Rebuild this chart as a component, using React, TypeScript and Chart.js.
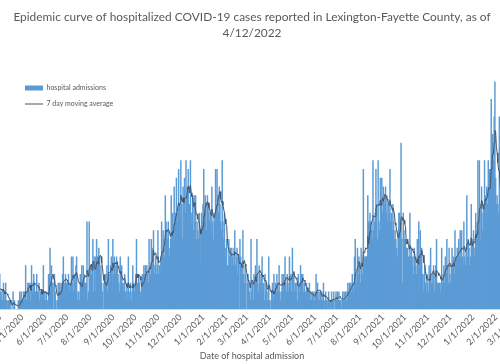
import React, { useEffect, useRef } from 'react';
import { Chart, registerables } from 'chart.js';

Chart.register(...registerables);

// ---- texts ----
const chartTitle = [
  'Epidemic curve of hospitalized COVID-19 cases reported in Lexington-Fayette County, as of',
  '4/12/2022',
];
const xAxisTitle = 'Date of hospital admission';
const barLabel = 'hospital admissions';
const lineLabel = '7 day moving average';

// ---- daily hospital admissions, one array per month (first array starts 3/16/2020) ----
const seriesStart = [2020, 3, 16];
const mar2020 = [0, 1, 1, 0, 2, 1, 3, 2, 1, 3, 2, 1, 3, 4, 2, 1];
const apr2020 = [2, 1, 3, 1, 2, 3, 1, 1, 0, 1, 1, 0, 1, 0, 0, 2, 0, 1, 0, 0, 0, 0, 1, 0, 2, 1, 2, 1, 1, 2];
const may2020 = [2, 1, 5, 1, 2, 3, 3, 2, 3, 1, 5, 2, 3, 4, 3, 2, 1, 4, 2, 2, 3, 1, 2, 2, 0, 2, 5, 1, 2, 1, 2];
const jun2020 = [0, 1, 4, 4, 7, 2, 5, 3, 3, 0, 4, 2, 1, 0, 1, 3, 2, 3, 2, 3, 2, 4, 6, 2, 3, 4, 3, 1, 3, 4];
const jul2020 = [2, 3, 3, 6, 3, 6, 2, 4, 3, 5, 6, 1, 2, 2, 1, 4, 3, 5, 3, 5, 4, 3, 3, 3, 10, 1, 2, 10, 4, 5, 4];
const aug2020 = [5, 8, 2, 6, 2, 6, 8, 6, 6, 7, 6, 4, 5, 3, 2, 0, 3, 4, 4, 3, 5, 2, 8, 3, 4, 5, 6, 3, 8, 4, 6];
const sep2020 = [5, 4, 6, 5, 4, 3, 2, 6, 2, 5, 3, 2, 3, 4, 2, 1, 3, 2, 6, 1, 2, 3, 1, 2, 5, 3, 2, 3, 4, 8];
const oct2020 = [3, 2, 4, 3, 2, 1, 3, 4, 4, 5, 4, 5, 3, 5, 4, 3, 8, 5, 4, 8, 6, 7, 9, 4, 5, 6, 4, 5, 9, 4, 5];
const nov2020 = [5, 6, 10, 7, 9, 8, 6, 13, 10, 9, 8, 10, 7, 6, 8, 13, 7, 11, 9, 14, 8, 11, 15, 10, 11, 16, 12, 10, 17, 12];
const dec2020 = [8, 14, 12, 15, 11, 17, 13, 14, 16, 10, 12, 17, 11, 10, 13, 9, 13, 10, 13, 8, 10, 9, 8, 11, 5, 9, 11, 10, 12, 16, 11];
const jan2021 = [13, 12, 9, 13, 11, 12, 10, 11, 9, 14, 10, 8, 11, 10, 16, 12, 16, 13, 11, 14, 12, 10, 9, 17, 10, 8, 11, 7, 6, 8, 5];
const feb2021 = [5, 8, 6, 7, 5, 7, 6, 5, 7, 9, 5, 6, 7, 4, 6, 0, 8, 6, 5, 4, 9, 4, 3, 5, 4, 0, 3, 4];
const mar2021 = [3, 2, 1, 8, 2, 3, 1, 4, 3, 5, 4, 8, 3, 2, 5, 4, 3, 4, 6, 2, 3, 1, 4, 2, 3, 1, 2, 6, 1, 0, 1];
const apr2021 = [2, 3, 1, 4, 2, 3, 2, 4, 3, 2, 5, 2, 1, 2, 4, 3, 4, 3, 6, 3, 2, 4, 3, 2, 6, 3, 4, 2, 7, 4];
const may2021 = [4, 2, 3, 2, 3, 1, 4, 3, 2, 5, 4, 3, 4, 2, 3, 1, 2, 3, 2, 1, 2, 3, 1, 2, 1, 2, 1, 2, 1, 2, 4];
const jun2021 = [2, 3, 1, 2, 1, 2, 1, 2, 1, 3, 1, 0, 2, 1, 1, 0, 2, 1, 0, 1, 2, 1, 1, 2, 0, 1, 2, 1, 2, 1];
const jul2021 = [2, 1, 1, 0, 1, 2, 1, 2, 1, 2, 1, 2, 3, 2, 3, 2, 3, 2, 4, 3, 2, 6, 8, 4, 3, 7, 4, 6, 5, 3, 7];
const aug2021 = [5, 4, 16, 5, 6, 6, 6, 6, 13, 10, 10, 11, 10, 9, 8, 17, 9, 10, 11, 16, 12, 8, 17, 10, 9, 15, 12, 15, 11, 14, 13];
const sep2021 = [12, 14, 11, 13, 10, 12, 11, 16, 10, 11, 9, 12, 10, 8, 9, 8, 7, 6, 9, 11, 11, 10, 19, 8, 3, 11, 9, 8, 8, 7];
const oct2021 = [6, 7, 6, 6, 11, 6, 7, 5, 6, 4, 7, 6, 5, 4, 8, 2, 10, 6, 9, 5, 7, 4, 2, 4, 5, 3, 2, 4, 3, 2, 5];
const nov2021 = [4, 7, 3, 4, 3, 5, 2, 4, 5, 8, 3, 2, 3, 3, 2, 3, 7, 3, 4, 5, 3, 6, 4, 8, 5, 3, 7, 4, 3, 5];
const dec2021 = [7, 5, 6, 4, 9, 5, 6, 7, 5, 8, 6, 9, 5, 9, 6, 5, 10, 6, 5, 7, 13, 6, 8, 7, 5, 6, 12, 7, 8, 9, 6];
const jan2022 = [7, 11, 9, 10, 17, 9, 17, 8, 12, 14, 9, 11, 12, 17, 13, 11, 14, 12, 17, 13, 16, 16, 24, 18, 20, 17, 22, 26, 15, 12, 13];
const feb2022 = [12, 11, 22, 14, 10, 12, 13, 11, 12, 10];

// ---- x-axis tick labels (first day of each month) ----
const monthTickLabels = [
  '4/1/2020', '5/1/2020', '6/1/2020', '7/1/2020', '8/1/2020', '9/1/2020', '10/1/2020', '11/1/2020',
  '12/1/2020', '1/1/2021', '2/1/2021', '3/1/2021', '4/1/2021', '5/1/2021', '6/1/2021', '7/1/2021',
  '8/1/2021', '9/1/2021', '10/1/2021', '11/1/2021', '12/1/2021', '1/1/2022', '2/1/2022', '3/1/2022',
];

// visible date window (days relative to 4/1/2020)
const viewMinDay = -2.7;
const viewMaxDay = 679.3;

const DAY = 86400000;
const origin = Date.UTC(2020, 3, 1);
const dayOf = (y: number, m: number, d: number) => Math.round((Date.UTC(y, m - 1, d) - origin) / DAY);
const dayOfLabel = (s: string) => {
  const [m, d, y] = s.split('/').map(Number);
  return dayOf(y, m, d);
};

const dailyValues = [
  ...mar2020, ...apr2020, ...may2020, ...jun2020, ...jul2020, ...aug2020, ...sep2020, ...oct2020,
  ...nov2020, ...dec2020, ...jan2021, ...feb2021, ...mar2021, ...apr2021, ...may2021, ...jun2021,
  ...jul2021, ...aug2021, ...sep2021, ...oct2021, ...nov2021, ...dec2021, ...jan2022, ...feb2022,
];
const firstDay = dayOf(seriesStart[0], seriesStart[1], seriesStart[2]);

const TEXT = '#595959';
const FONT = 'Lato, "Open Sans", sans-serif';

// place the legend inside the plot, near its top-left corner
const legendOffset = {
  id: 'legendOffset',
  afterLayout(chart: any) {
    const lg = chart.legend;
    const ca = chart.chartArea;
    if (lg && ca) {
      lg.left = ca.left + 16;
      lg.top = ca.top;
      lg.right = ca.right;
      lg.bottom = ca.bottom;
      lg.width = ca.right - lg.left;
      lg.height = ca.bottom - ca.top;
    }
  },
};

export default function App() {
  const ref = useRef<HTMLCanvasElement | null>(null);

  useEffect(() => {
    if (!ref.current) return;
    const barData = dailyValues.map((v, i) => ({ x: firstDay + i, y: v }));
    const avgData = dailyValues.map((_, i) => {
      if (i < 6) return { x: firstDay + i, y: null as number | null };
      let s = 0;
      for (let k = i - 6; k <= i; k++) s += dailyValues[k];
      return { x: firstDay + i, y: s / 7 };
    });
    const tickDays = monthTickLabels.map(dayOfLabel);
    const tickMap = new Map<number, string>();
    tickDays.forEach((d, i) => tickMap.set(d, monthTickLabels[i]));

    const titleSize = 11.9;
    const chart = new Chart(ref.current, {
      type: 'bar',
      data: {
        datasets: [
          {
            type: 'bar',
            label: barLabel,
            data: barData as any,
            backgroundColor: '#5B9BD5',
            borderWidth: 0,
            barPercentage: 2,
            categoryPercentage: 1,
            order: 1,
          },
          {
            type: 'line',
            label: lineLabel,
            data: avgData as any,
            borderColor: '#44546A',
            borderWidth: 1,
            pointRadius: 0,
            pointHoverRadius: 0,
            pointBorderColor: '#44546A',
            pointBackgroundColor: '#44546A',
            pointBorderWidth: 1,
            tension: 0,
            fill: false,
            order: 0,
          },
        ],
      },
      options: {
        responsive: false,
        maintainAspectRatio: false,
        animation: false,
        devicePixelRatio: 1,
        layout: { padding: 0 },
        scales: {
          x: {
            type: 'linear',
            min: viewMinDay,
            max: viewMaxDay,
            offset: false,
            grid: { display: false, drawTicks: false },
            border: { display: true, color: '#D9D9D9', width: 1 },
            afterBuildTicks: (scale: any) => {
              scale.ticks = tickDays.map((v) => ({ value: v }));
            },
            afterFit: (scale: any) => {
              scale.height = 55;
              scale.paddingLeft = 0;
              scale.paddingRight = 0;
            },
            ticks: {
              autoSkip: false,
              maxRotation: 45,
              minRotation: 45,
              padding: 3,
              labelOffset: -2,
              color: TEXT,
              font: { family: FONT, size: 9 },
              callback: (value: any) => tickMap.get(Number(value)) ?? '',
            },
            title: {
              display: true,
              text: xAxisTitle,
              color: TEXT,
              font: { family: FONT, size: 9 },
              padding: { top: 0, bottom: 3 },
            },
          },
          y: {
            display: false,
            min: 0,
            max: 26.7,
          },
        },
        plugins: {
          title: {
            display: true,
            text: chartTitle,
            color: TEXT,
            font: { family: FONT, size: titleSize, weight: 'normal', lineHeight: 16 / titleSize },
            padding: { top: 9, bottom: 34.5 },
          },
          legend: {
            display: true,
            position: 'chartArea',
            align: 'start',
            labels: {
              color: TEXT,
              font: { family: FONT, size: 7 },
              usePointStyle: true,
              pointStyleWidth: 18,
              boxHeight: 5,
              padding: 9,
              sort: (a: any, b: any) => a.datasetIndex - b.datasetIndex,
              generateLabels: (c: any) => {
                const items = (Chart.defaults.plugins.legend.labels as any).generateLabels(c);
                return items.map((it: any) => ({
                  ...it,
                  pointStyle: it.datasetIndex === 0 ? 'rect' : 'line',
                }));
              },
            },
          },
          tooltip: { enabled: false },
        },
      } as any,
      plugins: [legendOffset],
    });
    return () => chart.destroy();
  }, []);

  return (
    <div style={{ position: 'absolute', left: 0, top: 0, width: 500, height: 364, overflow: 'hidden', background: '#fff' }}>
      <canvas ref={ref} width={504} height={364} style={{ display: 'block', width: 504, height: 364 }} />
    </div>
  );
}
